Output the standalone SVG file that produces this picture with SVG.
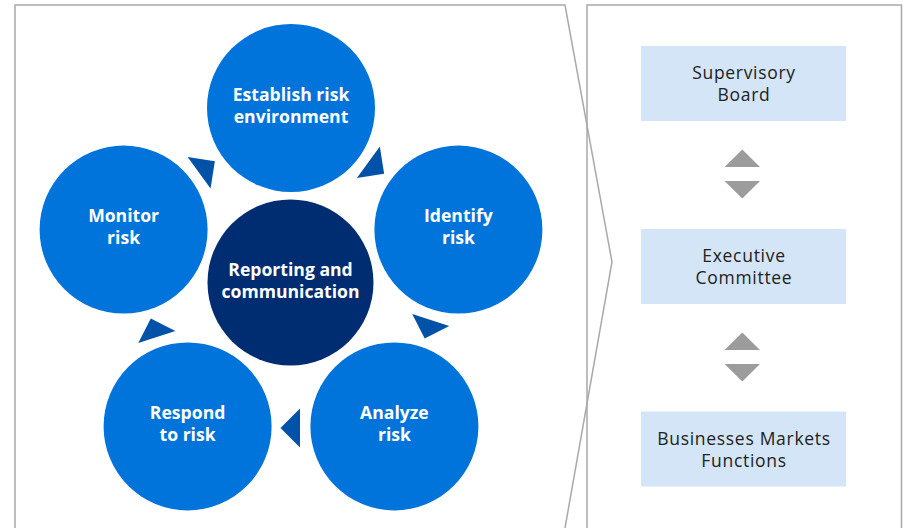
<svg xmlns="http://www.w3.org/2000/svg" width="905" height="528" viewBox="0 0 905 528">
<style>
.frame{fill:none;stroke:#a9a9a9;stroke-width:1.5}
.step{fill:#0074da}
.core{fill:#002d72}
.ct{font-family:"Open Sans","Liberation Sans",sans-serif;font-weight:bold;font-size:17.6px;fill:#fff;text-anchor:middle}
.box{fill:#d3e5f7}
.bt{font-family:"Open Sans","Liberation Sans",sans-serif;font-size:17.5px;letter-spacing:0.7px;fill:#222;text-anchor:middle}
.arr{fill:#0052a8}
.garr{fill:#9c9c9c}
</style>
<defs>
<path id="tri" d="M300,408.5 L300,447.5 L280.5,428 Z"/>
</defs>
<g id="frames">
<path class="frame" d="M15,528 V5 H565 L612,262 L565,528"/>
<path class="frame" d="M587,528 V5 H901.5 V528"/>
</g>
<g id="connectors">
<use href="#tri" class="arr" transform="rotate(-144 291 284)"/>
<use href="#tri" class="arr" transform="rotate(-72 291 284)"/>
<use href="#tri" class="arr"/>
<use href="#tri" class="arr" transform="rotate(72 291 284)"/>
<use href="#tri" class="arr" transform="rotate(144 291 284)"/>
<path class="garr" d="M724.5,167 L742.3,149.5 L760,167 Z"/>
<path class="garr" d="M724.5,181 L760,181 L742.3,198.5 Z"/>
<path class="garr" d="M724.5,350 L742.3,332.5 L760,350 Z"/>
<path class="garr" d="M724.5,364 L760,364 L742.3,381.5 Z"/>
</g>
<g id="establish">
<circle class="step" cx="291" cy="108" r="84"/>
<text class="ct"><tspan x="291" y="101">Establish risk</tspan><tspan x="291" y="123">environment</tspan></text>
</g>
<g id="identify">
<circle class="step" cx="458.4" cy="229.6" r="84"/>
<text class="ct"><tspan x="458.4" y="222">Identify</tspan><tspan x="458.4" y="244">risk</tspan></text>
</g>
<g id="analyze">
<circle class="step" cx="394.4" cy="426.4" r="84"/>
<text class="ct"><tspan x="394.4" y="419">Analyze</tspan><tspan x="394.4" y="441">risk</tspan></text>
</g>
<g id="respond">
<circle class="step" cx="187.6" cy="426.4" r="84"/>
<text class="ct"><tspan x="187.6" y="419">Respond</tspan><tspan x="187.6" y="441">to risk</tspan></text>
</g>
<g id="monitor">
<circle class="step" cx="123.6" cy="229.6" r="84"/>
<text class="ct"><tspan x="123.6" y="222">Monitor</tspan><tspan x="123.6" y="244">risk</tspan></text>
</g>
<g id="reporting">
<circle class="core" cx="290.5" cy="282.5" r="83"/>
<text class="ct"><tspan x="290.5" y="276">Reporting and</tspan><tspan x="290.5" y="298">communication</tspan></text>
</g>
<g id="supervisory">
<rect class="box" x="641" y="46" width="205" height="75"/>
<text class="bt"><tspan x="744" y="79">Supervisory</tspan><tspan x="744" y="101">Board</tspan></text>
</g>
<g id="executive">
<rect class="box" x="641" y="229" width="205" height="75"/>
<text class="bt"><tspan x="744" y="262">Executive</tspan><tspan x="744" y="284">Committee</tspan></text>
</g>
<g id="businesses">
<rect class="box" x="641" y="411.5" width="205" height="75"/>
<text class="bt"><tspan x="744" y="445">Businesses Markets</tspan><tspan x="744" y="467">Functions</tspan></text>
</g>
</svg>
